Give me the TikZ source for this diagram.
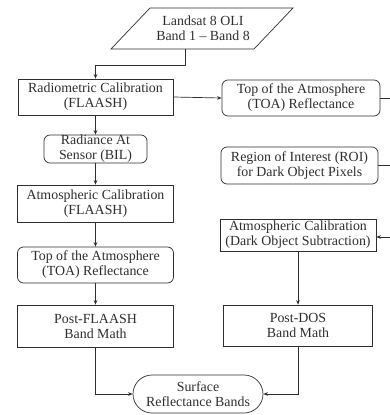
\documentclass[tikz,border=0pt]{standalone}
\usepackage{fontspec}
\setmainfont{Liberation Serif}
\usetikzlibrary{arrows.meta}
\definecolor{ink}{HTML}{2E2E2E}
\tikzset{
  x=1pt, y=1pt,
  base/.style={draw=ink, line width=0.7pt, text=ink, align=center, inner sep=0pt,
    font=\fontsize{13.9}{15}\selectfont},
  sq/.style={base},
  rnd/.style={base, rounded corners=6pt},
  pill/.style={base, rounded corners=19pt},
  arr/.style={draw=ink, line width=0.7pt, -{Stealth[length=4.5pt,width=3.6pt]}},
  ln/.style={draw=ink, line width=0.7pt}
}
\begin{document}
\begin{tikzpicture}
\useasboundingbox (0,0) rectangle (389,-415);
% input parallelogram
\draw[ln] (150,-8) -- (293,-8) -- (254,-49) -- (111,-49) -- cycle;
\node[base, draw=none, minimum width=100, minimum height=41] (in) at (203,-28.5) {Landsat 8 OLI\\Band 1 -- Band 8};
\node[sq, minimum width=155, minimum height=36] (rad) at (95.5,-97) {Radiometric Calibration\\(FLAASH)};
\node[rnd, minimum width=158, minimum height=36] (toa1) at (301,-98) {Top of the Atmosphere\\(TOA) Reflectance};
\node[rnd, minimum width=103, minimum height=28] (bil) at (95.5,-149) {Radiance At\\Sensor (BIL)};
\node[sq, minimum width=156, minimum height=37] (atm) at (95.5,-203.5) {Atmospheric Calibration\\(FLAASH)};
\node[rnd, minimum width=156, minimum height=36] (toa2) at (95.5,-265) {Top of the Atmosphere\\(TOA) Reflectance};
\node[sq, minimum width=156, minimum height=42] (pf) at (95.5,-326) {Post-FLAASH\\Band Math};
\node[rnd, minimum width=157, minimum height=37] (roi) at (299.5,-165.5) {Region of Interest (ROI)\\for Dark Object Pixels};
\node[sq, minimum width=156, minimum height=32] (dos) at (298,-235) {Atmospheric Calibration\\(Dark Object Subtraction)};
\node[sq, minimum width=149, minimum height=41] (pd) at (298,-325.5) {Post-DOS\\Band Math};
\node[pill, minimum width=130, minimum height=38] (srf) at (198,-394) {Surface\\Reflectance Bands};
\coordinate (e1) at (390,-98);
\coordinate (e2) at (390,-165.5);
\coordinate (e3) at (390,-237);
% connectors
\draw[arr] ([xshift=-18pt]in.south) -- ++(0,-16) -| (rad.north);
\draw[arr] (rad.east) -- (toa1.west);
\draw[ln] (toa1.east) -- (e1);
\draw[ln] (roi.east) -- (e2);
\draw[arr] (e3) -- (e3 -| dos.east);
\draw[arr] (rad.south) -- (bil.north);
\draw[arr] (bil.south) -- (atm.north);
\draw[arr] (atm.south) -- (toa2.north);
\draw[arr] (toa2.south) -- (pf.north);
\draw[arr] (dos.south) -- (pd.north);
\draw[arr] (pf.south) |- (srf.west);
\draw[arr] (pd.south) |- (srf.east);
\end{tikzpicture}
\end{document}
